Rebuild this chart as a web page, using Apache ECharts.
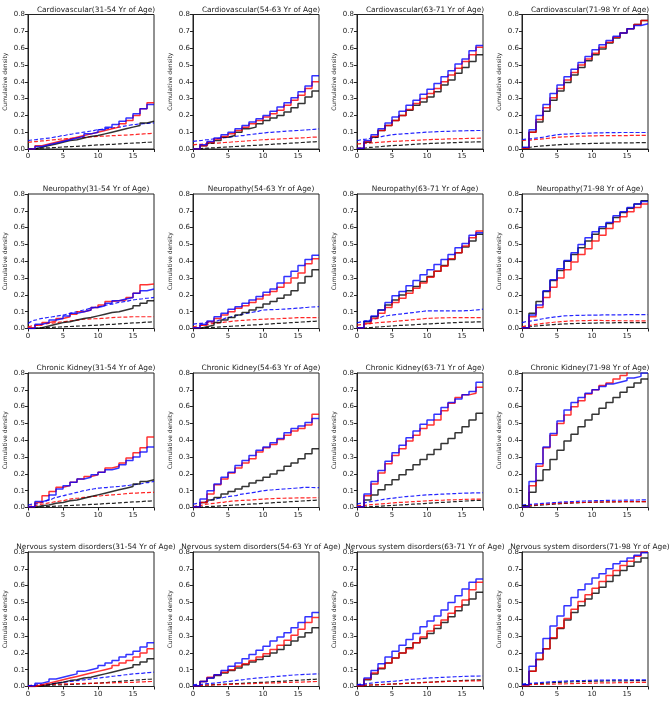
<!DOCTYPE html>
<html><head><meta charset="utf-8">
<script src="https://cdn.jsdelivr.net/npm/echarts@6/dist/echarts.min.js"></script>
<style>html,body{margin:0;padding:0;background:#fff}#c{width:669px;height:701px}</style>
</head><body><div id="c"></div>
<script>
const diseases = ['Cardiovascular', 'Neuropathy', 'Chronic Kidney', 'Nervous system disorders'];
const ageGroups = ['31-54', '54-63', '63-71', '71-98'];
const years = [0,1,2,3,4,5,6,7,8,9,10,11,12,13,14,15,16,17,18];
const yTickLabels = ['0.0','0.1','0.2','0.3','0.4','0.5','0.6','0.7','0.8'];
const xTickLabels = ['0','5','10','15'];

// Each panel: [black step, red step, blue step, black dashed, red dashed, blue dashed]
// step arrays hold the value on [k, k+1) for k = 0..17; dashed arrays hold values at x = 0..18
const CV_31_54 = [
  [0.0,0.01,0.02,0.03,0.04,0.05,0.055,0.065,0.075,0.08,0.09,0.10,0.11,0.12,0.13,0.14,0.155,0.165],
  [0.0,0.02,0.03,0.04,0.05,0.06,0.07,0.08,0.09,0.10,0.11,0.12,0.13,0.15,0.17,0.20,0.24,0.275],
  [0.0,0.015,0.025,0.035,0.045,0.055,0.065,0.075,0.09,0.10,0.115,0.13,0.145,0.165,0.185,0.21,0.24,0.265],
  [0.000,0.002,0.005,0.007,0.009,0.012,0.014,0.016,0.018,0.021,0.024,0.026,0.028,0.030,0.033,0.035,0.037,0.040,0.042],
  [0.040,0.044,0.048,0.052,0.056,0.060,0.063,0.066,0.069,0.072,0.075,0.077,0.079,0.081,0.083,0.085,0.088,0.091,0.095],
  [0.050,0.055,0.060,0.065,0.072,0.080,0.087,0.094,0.100,0.107,0.115,0.120,0.125,0.130,0.138,0.145,0.149,0.152,0.155]
];
const CV_54_63 = [
  [0.0,0.02,0.035,0.05,0.07,0.08,0.10,0.12,0.13,0.15,0.17,0.185,0.20,0.22,0.245,0.27,0.31,0.345],
  [0.0,0.02,0.04,0.06,0.075,0.09,0.11,0.13,0.15,0.17,0.19,0.21,0.23,0.26,0.29,0.32,0.36,0.40],
  [0.0,0.025,0.045,0.065,0.085,0.10,0.12,0.14,0.16,0.18,0.20,0.225,0.25,0.275,0.305,0.34,0.375,0.435],
  [0.000,0.002,0.005,0.007,0.010,0.012,0.015,0.017,0.020,0.022,0.025,0.027,0.030,0.032,0.035,0.037,0.040,0.042,0.045],
  [0.025,0.028,0.031,0.034,0.037,0.040,0.043,0.046,0.049,0.052,0.055,0.057,0.059,0.061,0.063,0.065,0.067,0.070,0.072],
  [0.045,0.050,0.055,0.060,0.065,0.070,0.075,0.080,0.085,0.090,0.095,0.099,0.102,0.105,0.108,0.110,0.113,0.116,0.120]
];
const CV_63_71 = [
  [0.0,0.04,0.07,0.11,0.14,0.17,0.20,0.23,0.26,0.28,0.31,0.34,0.38,0.41,0.45,0.485,0.52,0.56],
  [0.005,0.045,0.075,0.11,0.14,0.17,0.20,0.235,0.27,0.30,0.33,0.36,0.40,0.44,0.48,0.52,0.56,0.605],
  [0.005,0.05,0.085,0.12,0.155,0.19,0.225,0.26,0.29,0.325,0.355,0.39,0.43,0.465,0.505,0.535,0.585,0.615],
  [0.002,0.006,0.010,0.013,0.017,0.020,0.022,0.025,0.027,0.030,0.032,0.034,0.035,0.037,0.038,0.040,0.041,0.042,0.043],
  [0.030,0.033,0.036,0.039,0.042,0.045,0.047,0.049,0.051,0.053,0.055,0.057,0.058,0.060,0.061,0.062,0.063,0.064,0.065],
  [0.050,0.057,0.064,0.070,0.078,0.085,0.088,0.091,0.094,0.097,0.100,0.102,0.104,0.105,0.107,0.108,0.109,0.110,0.110]
];
const CV_71_98 = [
  [0.005,0.10,0.16,0.225,0.29,0.345,0.395,0.44,0.485,0.525,0.56,0.595,0.63,0.66,0.69,0.715,0.74,0.765],
  [0.005,0.10,0.175,0.245,0.305,0.36,0.41,0.455,0.50,0.535,0.57,0.605,0.635,0.665,0.69,0.715,0.74,0.765],
  [0.01,0.115,0.20,0.265,0.33,0.38,0.43,0.475,0.515,0.55,0.59,0.62,0.645,0.67,0.69,0.715,0.735,0.745],
  [0.005,0.010,0.015,0.019,0.022,0.025,0.027,0.029,0.031,0.032,0.033,0.034,0.035,0.036,0.036,0.037,0.037,0.038,0.038],
  [0.050,0.053,0.057,0.060,0.065,0.070,0.072,0.074,0.076,0.077,0.078,0.079,0.079,0.080,0.080,0.080,0.081,0.081,0.082],
  [0.055,0.060,0.065,0.070,0.078,0.085,0.088,0.090,0.092,0.094,0.095,0.096,0.097,0.097,0.098,0.098,0.098,0.098,0.098]
];
const NP_31_54 = [
  [0.0,0.005,0.015,0.025,0.035,0.04,0.05,0.06,0.065,0.075,0.085,0.095,0.10,0.11,0.12,0.135,0.15,0.165],
  [0.005,0.02,0.035,0.045,0.06,0.07,0.085,0.10,0.11,0.125,0.14,0.16,0.165,0.17,0.185,0.21,0.26,0.265],
  [0.0,0.025,0.035,0.05,0.06,0.075,0.09,0.10,0.11,0.125,0.135,0.15,0.165,0.175,0.185,0.21,0.225,0.235],
  [0.000,0.002,0.004,0.006,0.008,0.010,0.012,0.014,0.016,0.018,0.020,0.023,0.025,0.028,0.030,0.033,0.035,0.038,0.040],
  [0.010,0.018,0.025,0.030,0.035,0.040,0.045,0.050,0.055,0.057,0.059,0.061,0.065,0.067,0.068,0.070,0.070,0.070,0.070],
  [0.030,0.050,0.060,0.067,0.073,0.080,0.090,0.100,0.110,0.120,0.130,0.138,0.145,0.155,0.162,0.170,0.175,0.180,0.185]
];
const NP_54_63 = [
  [0.0,0.01,0.02,0.035,0.05,0.065,0.08,0.095,0.11,0.125,0.145,0.16,0.18,0.20,0.225,0.27,0.31,0.35],
  [0.005,0.02,0.04,0.06,0.08,0.10,0.12,0.135,0.155,0.175,0.20,0.22,0.245,0.27,0.30,0.33,0.385,0.415],
  [0.005,0.025,0.045,0.07,0.09,0.115,0.13,0.15,0.17,0.19,0.215,0.235,0.27,0.31,0.34,0.375,0.41,0.435],
  [0.000,0.002,0.005,0.007,0.010,0.012,0.015,0.017,0.020,0.022,0.025,0.027,0.030,0.032,0.035,0.037,0.040,0.042,0.045],
  [0.010,0.017,0.024,0.030,0.035,0.040,0.045,0.048,0.051,0.053,0.055,0.057,0.058,0.060,0.062,0.065,0.065,0.065,0.065],
  [0.025,0.030,0.035,0.040,0.052,0.065,0.075,0.085,0.093,0.100,0.110,0.112,0.113,0.115,0.118,0.121,0.125,0.128,0.130]
];
const NP_63_71 = [
  [0.005,0.04,0.07,0.11,0.14,0.17,0.20,0.225,0.25,0.28,0.31,0.34,0.375,0.41,0.45,0.485,0.52,0.56],
  [0.005,0.03,0.06,0.09,0.125,0.155,0.18,0.21,0.24,0.27,0.305,0.34,0.37,0.415,0.45,0.49,0.54,0.58],
  [0.005,0.045,0.075,0.11,0.155,0.195,0.22,0.255,0.285,0.32,0.35,0.38,0.41,0.44,0.48,0.505,0.555,0.57],
  [0.000,0.003,0.006,0.009,0.012,0.015,0.018,0.020,0.022,0.025,0.027,0.029,0.031,0.033,0.035,0.037,0.038,0.039,0.040],
  [0.020,0.025,0.030,0.035,0.038,0.041,0.045,0.048,0.052,0.056,0.060,0.062,0.063,0.064,0.065,0.065,0.065,0.065,0.065],
  [0.035,0.042,0.050,0.062,0.075,0.080,0.085,0.090,0.095,0.100,0.105,0.105,0.105,0.105,0.105,0.105,0.107,0.110,0.115]
];
const NP_71_98 = [
  [0.005,0.09,0.16,0.22,0.285,0.345,0.40,0.44,0.48,0.52,0.56,0.595,0.625,0.66,0.69,0.715,0.74,0.76],
  [0.005,0.07,0.125,0.185,0.245,0.30,0.35,0.395,0.44,0.475,0.52,0.555,0.595,0.635,0.665,0.695,0.72,0.74],
  [0.005,0.08,0.14,0.225,0.29,0.355,0.405,0.45,0.50,0.54,0.575,0.605,0.63,0.67,0.695,0.72,0.74,0.755],
  [0.005,0.010,0.015,0.019,0.022,0.025,0.027,0.029,0.030,0.031,0.032,0.033,0.034,0.034,0.035,0.035,0.035,0.035,0.035],
  [0.010,0.018,0.025,0.030,0.035,0.039,0.042,0.045,0.046,0.047,0.048,0.048,0.047,0.047,0.046,0.046,0.045,0.045,0.045],
  [0.035,0.043,0.050,0.058,0.065,0.070,0.075,0.077,0.078,0.079,0.080,0.080,0.081,0.081,0.081,0.082,0.082,0.082,0.082]
];
const CK_31_54 = [
  [0.0,0.01,0.015,0.025,0.03,0.04,0.045,0.055,0.065,0.075,0.085,0.095,0.105,0.115,0.125,0.14,0.155,0.165],
  [0.005,0.03,0.07,0.095,0.12,0.13,0.15,0.17,0.185,0.195,0.21,0.235,0.245,0.265,0.295,0.325,0.355,0.42],
  [0.005,0.035,0.045,0.075,0.11,0.13,0.15,0.17,0.18,0.195,0.21,0.225,0.235,0.255,0.28,0.30,0.33,0.36],
  [0.000,0.002,0.004,0.006,0.008,0.010,0.012,0.014,0.016,0.018,0.020,0.023,0.025,0.028,0.030,0.033,0.035,0.038,0.040],
  [0.005,0.012,0.020,0.027,0.035,0.040,0.050,0.055,0.060,0.065,0.068,0.072,0.075,0.078,0.082,0.085,0.087,0.089,0.090],
  [0.015,0.022,0.030,0.045,0.060,0.070,0.080,0.090,0.100,0.108,0.115,0.118,0.122,0.125,0.130,0.135,0.140,0.148,0.155]
];
const CK_54_63 = [
  [0.0,0.03,0.045,0.06,0.08,0.095,0.11,0.125,0.145,0.16,0.18,0.20,0.22,0.245,0.265,0.29,0.32,0.35],
  [0.005,0.03,0.08,0.135,0.17,0.205,0.235,0.265,0.29,0.33,0.355,0.375,0.405,0.43,0.455,0.47,0.49,0.555],
  [0.005,0.05,0.10,0.14,0.18,0.21,0.25,0.28,0.31,0.34,0.36,0.385,0.41,0.445,0.47,0.485,0.505,0.53],
  [0.000,0.002,0.005,0.007,0.010,0.012,0.015,0.017,0.020,0.022,0.025,0.027,0.030,0.032,0.035,0.037,0.040,0.042,0.045],
  [0.005,0.012,0.020,0.025,0.030,0.035,0.040,0.042,0.044,0.047,0.050,0.052,0.054,0.055,0.056,0.057,0.057,0.058,0.058],
  [0.020,0.027,0.035,0.050,0.057,0.065,0.070,0.080,0.085,0.092,0.100,0.104,0.107,0.110,0.113,0.116,0.120,0.119,0.118]
];
const CK_63_71 = [
  [0.005,0.045,0.075,0.105,0.135,0.165,0.195,0.225,0.255,0.285,0.315,0.345,0.38,0.41,0.445,0.48,0.52,0.56],
  [0.005,0.07,0.14,0.205,0.26,0.31,0.35,0.395,0.43,0.47,0.49,0.52,0.575,0.62,0.655,0.67,0.68,0.715],
  [0.005,0.08,0.155,0.22,0.275,0.325,0.37,0.415,0.455,0.495,0.52,0.555,0.595,0.625,0.645,0.67,0.69,0.745],
  [0.000,0.002,0.005,0.007,0.010,0.012,0.015,0.017,0.020,0.022,0.025,0.028,0.030,0.032,0.035,0.037,0.040,0.042,0.043],
  [0.010,0.013,0.017,0.020,0.023,0.027,0.030,0.032,0.035,0.037,0.040,0.042,0.043,0.045,0.046,0.048,0.049,0.050,0.050],
  [0.020,0.028,0.035,0.042,0.050,0.055,0.060,0.065,0.068,0.072,0.075,0.077,0.079,0.081,0.083,0.085,0.086,0.087,0.088]
];
const CK_71_98 = [
  [0.01,0.09,0.16,0.225,0.285,0.34,0.395,0.435,0.48,0.52,0.555,0.59,0.625,0.655,0.685,0.715,0.74,0.765],
  [0.005,0.13,0.245,0.355,0.43,0.50,0.55,0.60,0.635,0.675,0.70,0.725,0.74,0.765,0.785,0.81,0.83,0.85],
  [0.005,0.155,0.26,0.36,0.44,0.515,0.58,0.625,0.655,0.68,0.70,0.72,0.735,0.745,0.755,0.77,0.78,0.80],
  [0.005,0.008,0.012,0.015,0.018,0.021,0.024,0.026,0.028,0.030,0.031,0.032,0.033,0.034,0.034,0.035,0.035,0.035,0.035],
  [0.010,0.013,0.016,0.019,0.022,0.025,0.027,0.029,0.030,0.031,0.032,0.033,0.034,0.034,0.035,0.035,0.035,0.035,0.035],
  [0.015,0.018,0.021,0.024,0.027,0.030,0.033,0.035,0.037,0.039,0.040,0.041,0.042,0.043,0.043,0.044,0.044,0.045,0.045]
];
const NS_31_54 = [
  [0.0,0.005,0.01,0.02,0.025,0.035,0.04,0.05,0.055,0.065,0.075,0.085,0.095,0.105,0.115,0.13,0.145,0.165],
  [0.0,0.01,0.02,0.03,0.04,0.05,0.06,0.07,0.08,0.09,0.10,0.11,0.125,0.14,0.155,0.175,0.20,0.225],
  [0.005,0.02,0.03,0.045,0.055,0.065,0.075,0.09,0.10,0.11,0.125,0.14,0.155,0.175,0.19,0.21,0.235,0.26],
  [0.005,0.006,0.007,0.008,0.009,0.010,0.012,0.014,0.016,0.018,0.020,0.023,0.027,0.030,0.034,0.037,0.040,0.043,0.045],
  [0.005,0.007,0.009,0.011,0.013,0.015,0.016,0.017,0.018,0.019,0.020,0.021,0.022,0.023,0.024,0.025,0.027,0.029,0.030],
  [0.005,0.008,0.012,0.015,0.020,0.025,0.030,0.035,0.040,0.045,0.050,0.055,0.060,0.065,0.070,0.075,0.078,0.082,0.085]
];
const NS_54_63 = [
  [0.005,0.03,0.05,0.065,0.08,0.095,0.11,0.13,0.145,0.16,0.18,0.20,0.22,0.245,0.27,0.295,0.32,0.35],
  [0.005,0.03,0.055,0.07,0.085,0.10,0.12,0.135,0.155,0.175,0.195,0.22,0.245,0.275,0.305,0.34,0.38,0.41],
  [0.005,0.03,0.05,0.07,0.095,0.12,0.14,0.165,0.19,0.215,0.24,0.27,0.295,0.32,0.35,0.38,0.415,0.44],
  [0.005,0.007,0.009,0.011,0.013,0.015,0.017,0.019,0.021,0.023,0.025,0.027,0.030,0.032,0.035,0.037,0.040,0.042,0.045],
  [0.005,0.006,0.008,0.009,0.011,0.012,0.014,0.015,0.017,0.018,0.020,0.021,0.022,0.024,0.025,0.026,0.027,0.029,0.030],
  [0.010,0.013,0.017,0.020,0.025,0.030,0.035,0.040,0.045,0.050,0.053,0.057,0.060,0.063,0.067,0.070,0.072,0.074,0.075]
];
const NS_63_71 = [
  [0.005,0.04,0.075,0.105,0.14,0.17,0.20,0.23,0.26,0.285,0.315,0.345,0.38,0.415,0.45,0.485,0.52,0.56],
  [0.005,0.045,0.08,0.11,0.14,0.17,0.20,0.225,0.26,0.295,0.33,0.365,0.395,0.435,0.475,0.515,0.575,0.62],
  [0.01,0.05,0.095,0.135,0.175,0.21,0.245,0.28,0.315,0.355,0.39,0.42,0.455,0.50,0.54,0.58,0.62,0.64],
  [0.005,0.007,0.009,0.011,0.013,0.015,0.017,0.019,0.021,0.023,0.025,0.027,0.030,0.032,0.034,0.036,0.037,0.039,0.040],
  [0.005,0.007,0.009,0.010,0.012,0.014,0.016,0.018,0.020,0.022,0.024,0.026,0.028,0.030,0.031,0.032,0.033,0.034,0.035],
  [0.010,0.015,0.020,0.025,0.028,0.031,0.034,0.040,0.043,0.046,0.050,0.052,0.054,0.056,0.058,0.060,0.061,0.062,0.063]
];
const NS_71_98 = [
  [0.01,0.09,0.16,0.225,0.285,0.345,0.395,0.44,0.48,0.52,0.555,0.59,0.625,0.66,0.69,0.715,0.74,0.765],
  [0.005,0.09,0.16,0.225,0.29,0.35,0.405,0.46,0.505,0.545,0.585,0.625,0.66,0.69,0.72,0.745,0.775,0.80],
  [0.01,0.12,0.20,0.285,0.36,0.42,0.48,0.53,0.575,0.61,0.645,0.67,0.70,0.73,0.745,0.765,0.78,0.795],
  [0.010,0.013,0.016,0.019,0.022,0.024,0.026,0.028,0.029,0.030,0.031,0.032,0.033,0.033,0.034,0.034,0.035,0.035,0.035],
  [0.010,0.011,0.012,0.013,0.014,0.015,0.016,0.017,0.018,0.019,0.020,0.021,0.022,0.022,0.023,0.023,0.024,0.024,0.025],
  [0.015,0.018,0.021,0.024,0.027,0.030,0.032,0.034,0.035,0.036,0.037,0.038,0.038,0.039,0.039,0.040,0.040,0.040,0.040]
];

const panels = [
  [CV_31_54, CV_54_63, CV_63_71, CV_71_98],
  [NP_31_54, NP_54_63, NP_63_71, NP_71_98],
  [CK_31_54, CK_54_63, CK_63_71, CK_71_98],
  [NS_31_54, NS_54_63, NS_63_71, NS_71_98]
];

const colors = ['#000000', '#ff0000', '#0000ff'];
const colLeft = [28, 193, 357, 522];
const rowTop = [14.5, 194, 373, 552];
const gridW = 126, gridH = 134.5;
const FONT = 'DejaVu Sans';

const grid = [], xAxis = [], yAxis = [], series = [], title = [];
let idx = 0;
for (let r = 0; r < 4; r++) {
  for (let c = 0; c < 4; c++) {
    grid.push({ left: colLeft[c], top: rowTop[r], width: gridW, height: gridH, show: true,
      borderColor: '#222', borderWidth: 1, backgroundColor: '#fff' });
    title.push({ text: diseases[r] + '(' + ageGroups[c] + ' Yr of Age)', left: colLeft[c] + gridW / 2,
      top: rowTop[r] - 13, textAlign: 'center',
      textStyle: { fontFamily: FONT, fontSize: 7.4, fontWeight: 'normal', color: '#222' } });
    xAxis.push({ type: 'value', gridIndex: idx, min: 0, max: 18, interval: 5,
      axisLine: { show: true, onZero: false, lineStyle: { color: '#222', width: 1 } },
      axisTick: { show: true, inside: false, length: 3, lineStyle: { color: '#222' } },
      axisLabel: { fontFamily: FONT, fontSize: 7, color: '#222', margin: 4,
        formatter: v => xTickLabels.indexOf(String(v)) >= 0 ? String(v) : '' },
      splitLine: { show: false } });
    yAxis.push({ type: 'value', gridIndex: idx, min: 0, max: 0.8, interval: 0.1,
      name: 'Cumulative density', nameLocation: 'middle', nameGap: 20,
      nameTextStyle: { fontFamily: FONT, fontSize: 6, color: '#222' },
      axisLine: { show: true, onZero: false, lineStyle: { color: '#222', width: 1 } },
      axisTick: { show: true, inside: false, length: 3, lineStyle: { color: '#222' } },
      axisLabel: { fontFamily: FONT, fontSize: 7, color: '#222', margin: 3,
        formatter: v => yTickLabels[Math.round(v * 10)] },
      splitLine: { show: false } });
    const p = panels[r][c];
    for (let s = 0; s < 3; s++) {
      const steps = p[s];
      const data = steps.map((v, k) => [years[k], v]);
      data.push([years[18], steps[17]]);
      series.push({ type: 'line', xAxisIndex: idx, yAxisIndex: idx, step: 'end', data,
        showSymbol: false, silent: true, clip: true, z: 3 + s,
        lineStyle: { color: colors[s], width: 1.5, opacity: 0.8 } });
    }
    for (let s = 0; s < 3; s++) {
      const d = p[3 + s];
      series.push({ type: 'line', xAxisIndex: idx, yAxisIndex: idx, smooth: 0.3, smoothMonotone: 'x',
        data: years.map((x, k) => [x, d[k]]), showSymbol: false, silent: true, clip: true, z: 2,
        lineStyle: { color: colors[s], width: 1.2, type: [4, 2], opacity: 0.85 } });
    }
    idx++;
  }
}

const chart = echarts.init(document.getElementById('c'), null, { renderer: 'canvas' });
chart.setOption({ animation: false, backgroundColor: '#fff', title, grid, xAxis, yAxis, series });
</script>
</body></html>
